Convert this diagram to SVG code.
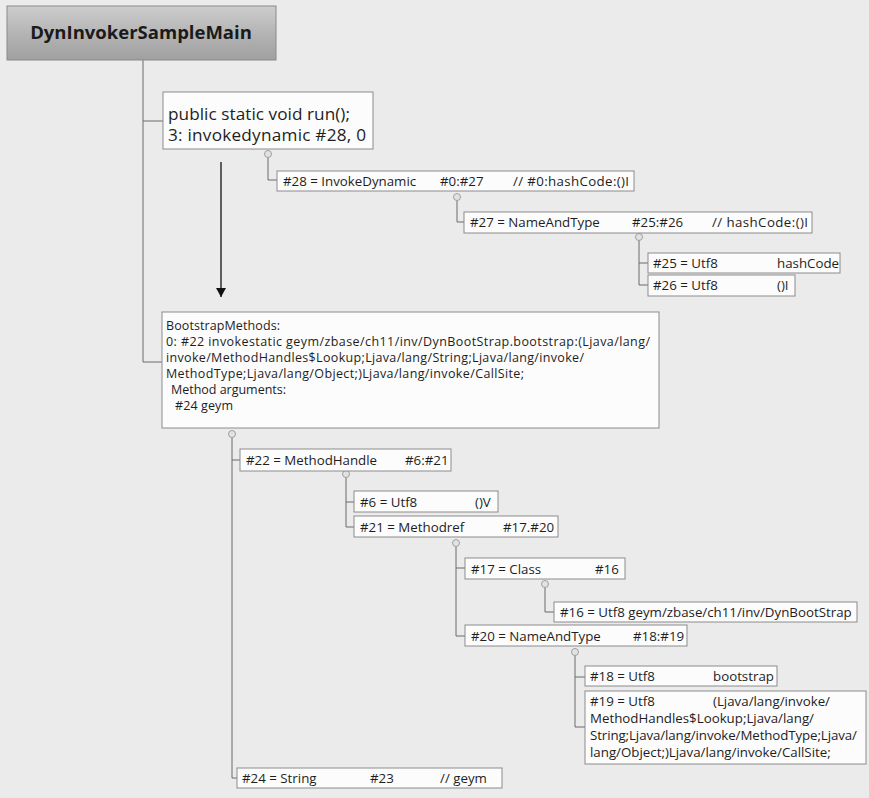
<svg xmlns="http://www.w3.org/2000/svg" width="869" height="798" viewBox="0 0 869 798">
<defs>
<linearGradient id="tg" x1="0" y1="0" x2="0" y2="1">
<stop offset="0" stop-color="#cdcdcd"/>
<stop offset="0.55" stop-color="#b2b2b2"/>
<stop offset="1" stop-color="#a0a0a0"/>
</linearGradient>
<marker id="ah" markerWidth="10" markerHeight="10" refX="9" refY="5" orient="auto" markerUnits="userSpaceOnUse" viewBox="0 0 10 10">
<path d="M0,0 L9,5 L0,10 Z" fill="#111"/>
</marker>
<style>
.bx{fill:#fcfcfc;stroke:#8c8c8c;stroke-width:1}
.t{font-family:"Open Sans","Noto Sans","Liberation Sans",sans-serif;font-size:13.3px;fill:#1e1e1e}
.tb{font-family:"Open Sans","Noto Sans","Liberation Sans",sans-serif;font-size:12.5px;fill:#1e1e1e}
.big{font-family:"Open Sans","Noto Sans","Liberation Sans",sans-serif;font-size:17.2px;fill:#1e1e1e}
.ttl{font-family:"Open Sans","Noto Sans","Liberation Sans",sans-serif;font-size:18.5px;font-weight:bold;fill:#1a1a1a}
.ln{fill:none;stroke:#6a6a6a;stroke-width:1}
.hd{fill:#e2e2e2;stroke:#a0a0a0;stroke-width:1}
</style>
</defs>
<rect x="0" y="0" width="869" height="798" fill="#ebebeb"/>

<g id="connectors">
<path class="ln" d="M143,60 V362 M143,121 H163 M143,362 H162"/>
<line x1="221" y1="162" x2="221" y2="297" stroke="#111" stroke-width="1.3" marker-end="url(#ah)"/>
<path class="ln" d="M268,157 V180 H277"/>
<path class="ln" d="M457,200 V222 H464"/>
<path class="ln" d="M639,240 V285 H648 M639,263 H648"/>
<path class="ln" d="M232,437 V778 H237 M232,460 H240"/>
<path class="ln" d="M346,477 V527 H354 M346,502 H354"/>
<path class="ln" d="M456,546 V636 H465 M456,568 H465"/>
<path class="ln" d="M545,587 V612 H554"/>
<path class="ln" d="M575,655 V727 H585 M575,677 H585"/>
<circle class="hd" cx="268" cy="154" r="3.5"/>
<circle class="hd" cx="457" cy="197" r="3.5"/>
<circle class="hd" cx="639" cy="237" r="3.5"/>
<circle class="hd" cx="232" cy="434" r="3.5"/>
<circle class="hd" cx="346" cy="474" r="3.5"/>
<circle class="hd" cx="456" cy="543" r="3.5"/>
<circle class="hd" cx="545" cy="584" r="3.5"/>
<circle class="hd" cx="575" cy="652" r="3.5"/>
</g>

<g id="main">
<rect x="7" y="6" width="269" height="54" fill="url(#tg)" stroke="#8a8a8a"/>
<text class="ttl" x="141" y="39" text-anchor="middle">DynInvokerSampleMain</text>
</g>

<g id="run">
<rect class="bx" x="163" y="92" width="210" height="57"/>
<text class="big" x="168" y="120" textLength="182">public static void run();</text>
<text class="big" x="168" y="141" textLength="198">3: invokedynamic #28,  0</text>
</g>

<g id="n28">
<rect class="bx" x="277" y="171" width="357" height="20"/>
<text class="t" x="283" y="186">#28 = InvokeDynamic</text>
<text class="t" x="440" y="186">#0:#27</text>
<text class="t" x="513" y="186" textLength="116">// #0:hashCode:()I</text>
</g>

<g id="n27">
<rect class="bx" x="464" y="212" width="348" height="21"/>
<text class="t" x="470" y="227">#27 = NameAndType</text>
<text class="t" x="632" y="227">#25:#26</text>
<text class="t" x="712" y="227" textLength="96">// hashCode:()I</text>
</g>

<g id="n25">
<rect class="bx" x="648" y="253" width="192" height="20"/>
<text class="t" x="653" y="268">#25 = Utf8</text>
<text class="t" x="777" y="268">hashCode</text>
</g>

<g id="n26">
<rect class="bx" x="648" y="275" width="147" height="21"/>
<text class="t" x="653" y="290">#26 = Utf8</text>
<text class="t" x="777" y="290">()I</text>
</g>

<g id="bootstrap">
<rect class="bx" x="162" y="312" width="497" height="116"/>
<text class="tb" x="166" y="330" textLength="114">BootstrapMethods:</text>
<text class="tb" x="166" y="346" textLength="484">0: #22 invokestatic geym/zbase/ch11/inv/DynBootStrap.bootstrap:(Ljava/lang/</text>
<text class="tb" x="166" y="362" textLength="418">invoke/MethodHandles$Lookup;Ljava/lang/String;Ljava/lang/invoke/</text>
<text class="tb" x="166" y="378" textLength="358">MethodType;Ljava/lang/Object;)Ljava/lang/invoke/CallSite;</text>
<text class="tb" x="171" y="394" textLength="115">Method arguments:</text>
<text class="tb" x="175" y="410" textLength="58">#24 geym</text>
</g>

<g id="n22">
<rect class="bx" x="240" y="449" width="211" height="22"/>
<text class="t" x="246" y="465">#22 = MethodHandle</text>
<text class="t" x="405" y="465">#6:#21</text>
</g>

<g id="n6">
<rect class="bx" x="354" y="491" width="144" height="21"/>
<text class="t" x="360" y="507">#6 = Utf8</text>
<text class="t" x="475" y="507">()V</text>
</g>

<g id="n21">
<rect class="bx" x="354" y="516" width="204" height="21"/>
<text class="t" x="360" y="532">#21 = Methodref</text>
<text class="t" x="503" y="532">#17.#20</text>
</g>

<g id="n17">
<rect class="bx" x="465" y="558" width="160" height="21"/>
<text class="t" x="471" y="574">#17 = Class</text>
<text class="t" x="595" y="574">#16</text>
</g>

<g id="n16">
<rect class="bx" x="554" y="602" width="303" height="20"/>
<text class="t" x="560" y="617">#16 = Utf8 geym/zbase/ch11/inv/DynBootStrap</text>
</g>

<g id="n20">
<rect class="bx" x="465" y="625" width="222" height="21"/>
<text class="t" x="471" y="641">#20 = NameAndType</text>
<text class="t" x="633" y="641">#18:#19</text>
</g>

<g id="n18">
<rect class="bx" x="585" y="666" width="192" height="20"/>
<text class="t" x="590" y="681">#18 = Utf8</text>
<text class="t" x="713" y="681">bootstrap</text>
</g>

<g id="n19">
<rect class="bx" x="585" y="691" width="281" height="73"/>
<text class="t" x="590" y="706">#19 = Utf8</text>
<text class="t" x="713" y="706">(Ljava/lang/invoke/</text>
<text class="t" x="590" y="723">MethodHandles$Lookup;Ljava/lang/</text>
<text class="t" x="590" y="740" textLength="267">String;Ljava/lang/invoke/MethodType;Ljava/</text>
<text class="t" x="590" y="757">lang/Object;)Ljava/lang/invoke/CallSite;</text>
</g>

<g id="n24">
<rect class="bx" x="237" y="768" width="265" height="20"/>
<text class="t" x="242" y="783">#24 = String</text>
<text class="t" x="370" y="783">#23</text>
<text class="t" x="440" y="783">// geym</text>
</g>
</svg>
